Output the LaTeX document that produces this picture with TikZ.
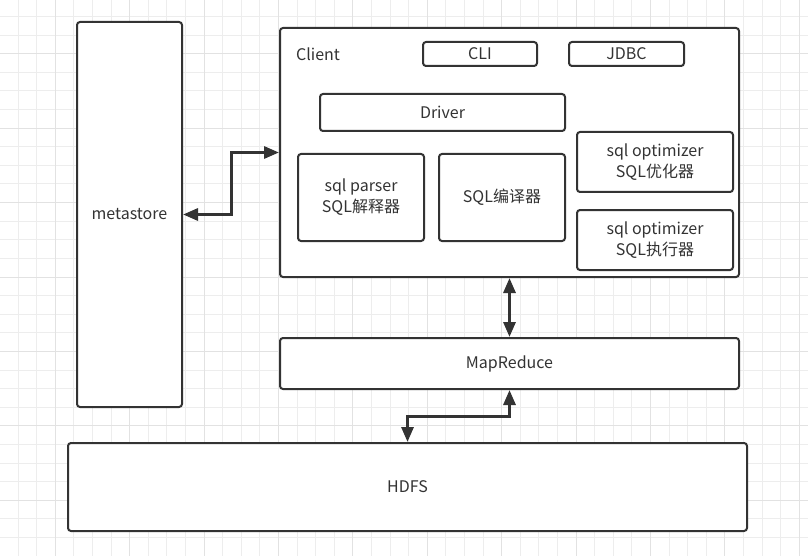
\documentclass[tikz,border=0pt]{standalone}
\usepackage{fontspec}
\setmainfont{Noto Sans CJK SC}
\usetikzlibrary{arrows.meta,calc}
\definecolor{ln}{HTML}{333333}
\definecolor{gridminor}{HTML}{EDEDED}
\definecolor{gridmajor}{HTML}{E2E2E2}
\tikzset{
  box/.style={draw=ln, line width=2pt, rounded corners=3pt, fill=white, text=ln,
    font=\fontsize{16}{21}\selectfont, align=center, inner sep=0pt},
  conn/.style={draw=ln, line width=3pt, {Triangle[length=15pt,width=12pt]}-{Triangle[length=15pt,width=12pt]}},
}
\begin{document}
\begin{tikzpicture}[x=1pt,y=-1pt]
\fill[white] (0,0) rectangle (808,556);
\useasboundingbox (0,0) rectangle (808,556);
\foreach \i in {0,...,44} {
  \draw[gridminor, line width=1pt] ({18.6*\i-0.6},0) -- ({18.6*\i-0.6},556);
}
\foreach \i in {0,...,30} {
  \draw[gridminor, line width=1pt] (0,{18.6*\i-2}) -- (808,{18.6*\i-2});
}
\foreach \i in {0,...,10} {
  \draw[gridmajor, line width=1pt] ({74.4*\i+55.2},0) -- ({74.4*\i+55.2},556);
}
\foreach \i in {0,...,7} {
  \draw[gridmajor, line width=1pt] (0,{74.4*\i+53.8}) -- (808,{74.4*\i+53.8});
}

\node[box, minimum width=105pt, minimum height=385pt] (meta) at (129.5,214.5) {metastore};
\node[box, minimum width=459pt, minimum height=249pt] (client) at (509.5,152.5) {};
\node[text=ln, font=\fontsize{16}{21}\selectfont, anchor=west, inner sep=0pt] (clientlbl) at (296,54) {Client};
\node[box, minimum width=114pt, minimum height=24pt] (cli) at (480,54) {CLI};
\node[box, minimum width=115pt, minimum height=24pt] (jdbc) at (626.5,54) {JDBC};
\node[box, minimum width=245pt, minimum height=37pt] (driver) at (442.5,112.5) {Driver};
\node[box, minimum width=126pt, minimum height=87pt] (parser) at (361,197.5) {sql parser\\SQL解释器};
\node[box, minimum width=126pt, minimum height=87pt] (compiler) at (502,197.5) {SQL编译器};
\node[box, minimum width=156pt, minimum height=60pt] (opt) at (655,162) {sql optimizer\\SQL优化器};
\node[box, minimum width=156pt, minimum height=60pt] (exec) at (655,240) {sql optimizer\\SQL执行器};
\node[box, minimum width=459pt, minimum height=51pt] (mr) at (509.5,363.5) {MapReduce};
\node[box, minimum width=679pt, minimum height=88pt] (hdfs) at (407.5,487) {HDFS};

\draw[conn] (meta.east) -| ($(meta.east)!0.5!(client.west)$) |- (client.west);
\draw[conn] (client.south) -- (mr.north);
\draw[conn] (mr.south) |- ($(mr.south)!0.5!(hdfs.north)$) -| (hdfs.north);
\end{tikzpicture}
\end{document}
